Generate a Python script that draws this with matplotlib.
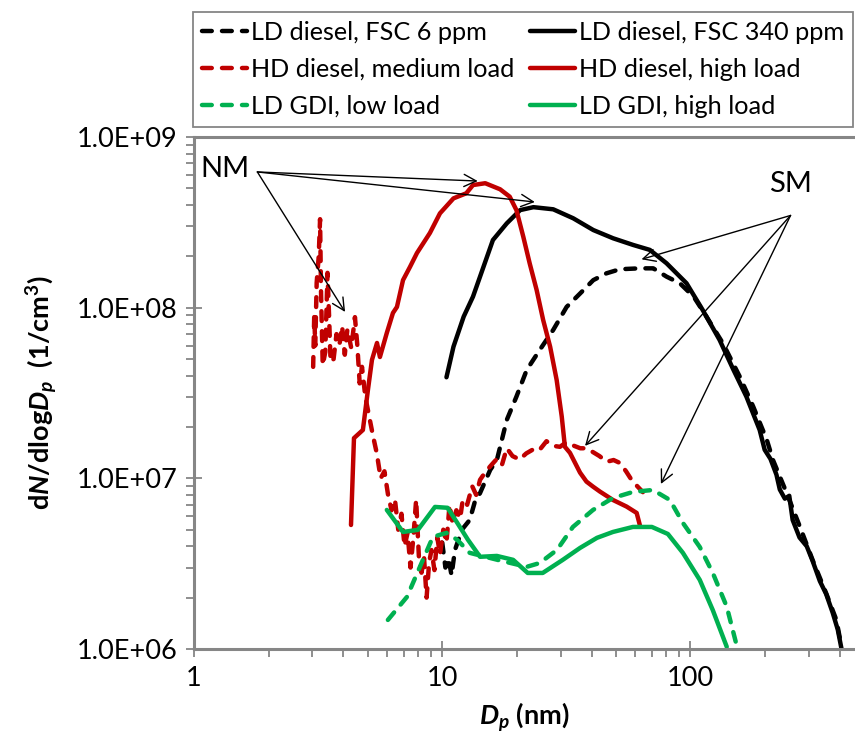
import matplotlib
matplotlib.use("Agg")
import matplotlib.pyplot as plt
from matplotlib.ticker import LogLocator, NullFormatter, FixedLocator

plt.rcParams["font.family"] = ["Lato", "DejaVu Sans"]
plt.rcParams["mathtext.fontset"] = "custom"
plt.rcParams["mathtext.rm"] = "Lato:bold"
plt.rcParams["mathtext.it"] = "Lato:bold:italic"
plt.rcParams["mathtext.bf"] = "Lato:bold"

# LD diesel, FSC 340 ppm
ld340_dp = [10.4, 11.1, 12.2, 13.3, 14.2, 16.0, 18.2, 20.6, 23.3, 28.0, 33.7, 40.6,
            48.8, 58.8, 68.6, 80.1, 96.4, 112, 131, 149, 168, 190, 199, 210, 222,
            229, 240, 250, 258, 275, 294, 310, 332, 352, 374, 392, 406]
ld340_n = [3.91e7, 5.91e7, 8.86e7, 1.16e8, 1.52e8, 2.49e8, 3.12e8, 3.73e8, 3.88e8,
           3.77e8, 3.34e8, 2.85e8, 2.55e8, 2.33e8, 2.18e8, 1.82e8, 1.39e8, 9.69e7,
           6.47e7, 4.32e7, 3.01e7, 1.92e7, 1.47e7, 1.30e7, 1.05e7, 8.6e6, 7.6e6,
           7.9e6, 5.7e6, 4.5e6, 4.0e6, 3.3e6, 2.5e6, 2.1e6, 1.63e6, 1.3e6, 1.0e6]

# LD diesel, FSC 6 ppm
ld6_dp = [10.0, 10.3, 10.6, 10.9, 11.25, 12.0, 12.9, 13.5, 14.2, 15.6, 16.6, 18.2,
          19.9, 21.9, 24.7, 28.0, 31.7, 35.9, 40.6, 45.9, 52.0, 62.5, 70.8, 80.1,
          90.6, 103, 116, 135, 158, 179, 203, 215, 244, 276, 311, 353, 387, 406]
ld6_n = [4.2e6, 3.0e6, 3.4e6, 2.7e6, 3.8e6, 5.0e6, 5.7e6, 7.2e6, 8.2e6, 1.12e7,
         1.28e7, 2.20e7, 3.01e7, 4.32e7, 5.65e7, 7.41e7, 1.01e8, 1.21e8, 1.45e8,
         1.59e8, 1.68e8, 1.70e8, 1.70e8, 1.52e8, 1.39e8, 1.16e8, 8.86e7, 6.19e7,
         3.94e7, 2.63e7, 1.68e7, 1.28e7, 8.2e6, 5.2e6, 3.3e6, 2.1e6, 1.48e6, 1.03e6]

# HD diesel, high load
hdh_dp = [4.29, 4.41, 4.79, 5.02, 5.21, 5.46, 5.61, 5.98, 6.33, 6.57, 6.95, 7.41,
          7.91, 8.92, 9.79, 11.1, 12.5, 13.3, 14.9, 17.1, 18.7, 19.9, 21.2, 22.5,
          24.0, 25.5, 27.2, 28.9, 30.3, 31.2, 32.7, 35.9, 38.1, 40.5, 43.2, 48.7,
          55.3, 60.7, 62.5]
hdh_n = [5.33e6, 1.72e7, 1.92e7, 3.30e7, 4.94e7, 6.21e7, 5.14e7, 7.11e7, 9.31e7,
         1.01e8, 1.45e8, 1.73e8, 2.09e8, 2.74e8, 3.57e8, 4.37e8, 4.68e8, 5.23e8,
         5.36e8, 4.94e8, 4.47e8, 3.73e8, 2.61e8, 1.82e8, 1.27e8, 8.47e7, 5.91e7,
         3.77e7, 2.30e7, 1.53e7, 1.41e7, 1.08e7, 9.57e6, 8.94e6, 8.36e6, 7.47e6,
         6.83e6, 6.27e6, 5.33e6]

# HD diesel, medium load
hdm_dp = [3.02, 3.05, 3.08, 3.12, 3.18, 3.22, 3.25, 3.30, 3.38, 3.45, 3.50, 3.55,
          3.65, 3.75, 3.85, 3.95, 4.05, 4.15, 4.30, 4.45, 4.55, 4.65, 4.75, 4.90,
          5.05, 5.25, 5.45, 5.65, 5.85, 6.05, 6.25, 6.45, 6.65, 6.85, 7.05, 7.25,
          7.45, 7.65, 7.85, 8.05, 8.25, 8.45, 8.65, 8.85, 9.05, 9.3, 9.55, 9.8,
          10.1, 10.4, 10.7, 11.0, 11.4, 11.8, 12.1, 12.6, 13.2, 13.7, 14.2, 15.0,
          15.8, 16.6, 17.4, 18.2, 19.2, 20.5, 21.8, 23.1, 24.5, 26.3, 28.0, 29.8,
          31.5, 33.6, 36.0, 38.0, 40.3, 43.0, 46.0, 49.0, 52.0, 55.0, 58.4, 61.0, 64.3]
hdm_n = [4.5e7, 9.0e7, 6.0e7, 1.4e8, 2.0e8, 3.3e8, 1.2e8, 4.6e7, 5.5e7, 1.6e8,
         9.0e7, 4.8e7, 5.0e7, 7.0e7, 6.0e7, 7.8e7, 5.3e7, 7.5e7, 5.8e7, 8.8e7,
         6.0e7, 3.6e7, 4.5e7, 3.0e7, 2.4e7, 1.8e7, 1.4e7, 1.0e7, 1.1e7, 8.0e6,
         6.5e6, 7.5e6, 5.0e6, 6.2e6, 4.0e6, 4.8e6, 3.0e6, 4.5e6, 7.5e6, 3.5e6,
         2.8e6, 3.4e6, 2.0e6, 3.2e6, 3.8e6, 2.9e6, 4.5e6, 3.6e6, 5.0e6, 4.2e6,
         7.0e6, 5.5e6, 6.5e6, 5.8e6, 7.5e6, 7.0e6, 9.0e6, 8.0e6, 9.8e6, 1.1e7,
         1.2e7, 1.3e7, 1.2e7, 1.5e7, 1.35e7, 1.29e7, 1.4e7, 1.47e7, 1.45e7,
         1.65e7, 1.55e7, 1.53e7, 1.62e7, 1.56e7, 1.5e7, 1.5e7, 1.43e7, 1.35e7,
         1.25e7, 1.28e7, 1.23e7, 1.1e7, 9.6e6, 9.0e6, 8.3e6]

# LD GDI, high load
gdih_dp = [5.98, 6.95, 7.98, 9.35, 10.5, 11.5, 12.7, 14.2, 16.6, 19.3, 22.1, 25.4,
           30.6, 35.9, 42.0, 48.7, 58.6, 69.9, 81.1, 93.2, 109, 123, 140]
gdih_n = [6.53e6, 4.85e6, 4.99e6, 6.80e6, 6.72e6, 5.48e6, 4.36e6, 3.47e6, 3.51e6,
          3.33e6, 2.79e6, 2.79e6, 3.33e6, 3.91e6, 4.48e6, 4.85e6, 5.19e6, 5.19e6,
          4.72e6, 3.66e6, 2.54e6, 1.69e6, 1.03e6]

# LD GDI, low load
gdil_dp = [6.04, 7.21, 8.13, 9.17, 10.4, 11.5, 12.9, 17.1, 21.9, 24.7, 29.0, 33.6,
           40.5, 48.7, 58.6, 70.6, 82.6, 93.2, 109, 123, 140, 154]
gdil_n = [1.48e6, 2.02e6, 3.03e6, 4.54e6, 4.79e6, 4.36e6, 3.66e6, 3.3e6, 3.03e6,
          3.19e6, 3.81e6, 5.19e6, 6.53e6, 7.67e6, 8.32e6, 8.55e6, 7.47e6, 5.48e6,
          3.96e6, 2.79e6, 1.77e6, 1.03e6]

BLACK = "black"
RED = "#C00000"
GREEN = "#00B050"
GREY = "#868686"

fig = plt.figure(figsize=(8.55, 7.47), dpi=100)
ax = fig.add_axes([194 / 855, 98 / 747, 661 / 855, 512 / 747])

dash = dict(linestyle=(0, (2.2, 2.3)), dash_capstyle="round")
solid = dict(linestyle="-", solid_capstyle="round", solid_joinstyle="round")
lw = 3.2

h_ld6, = ax.plot(ld6_dp, ld6_n, color=BLACK, lw=lw, **dash)
h_ld340, = ax.plot(ld340_dp, ld340_n, color=BLACK, lw=lw, **solid)
h_hdm, = ax.plot(hdm_dp, hdm_n, color=RED, lw=lw, **dash)
h_hdh, = ax.plot(hdh_dp, hdh_n, color=RED, lw=lw, **solid)
h_gdil, = ax.plot(gdil_dp, gdil_n, color=GREEN, lw=lw, **dash)
h_gdih, = ax.plot(gdih_dp, gdih_n, color=GREEN, lw=lw, **solid)

ax.set_xscale("log")
ax.set_yscale("log")
ax.set_xlim(1, 460)
ax.set_ylim(1e6, 1e9)

ax.xaxis.set_major_locator(FixedLocator([1, 10, 100]))
ax.xaxis.set_minor_locator(LogLocator(base=10, subs=range(2, 10)))
ax.xaxis.set_minor_formatter(NullFormatter())
ax.set_xticklabels(["1", "10", "100"])
ax.yaxis.set_major_locator(FixedLocator([1e6, 1e7, 1e8, 1e9]))
ax.yaxis.set_minor_locator(LogLocator(base=10, subs=range(2, 10)))
ax.yaxis.set_minor_formatter(NullFormatter())
ax.set_yticklabels(["1.0E+06", "1.0E+07", "1.0E+08", "1.0E+09"])

ax.tick_params(which="both", color=GREY, width=1.3, labelsize=19.5)
ax.tick_params(which="major", direction="inout", length=12, pad=6)
ax.tick_params(which="minor", direction="out", length=6)

for side in ["left", "bottom", "top"]:
    ax.spines[side].set_color(GREY)
    ax.spines[side].set_linewidth(2.2)
ax.spines["right"].set_visible(False)

ax.set_xlabel(r"$D_p$ (nm)", fontsize=19.5, fontweight="bold", labelpad=7)
ax.set_ylabel(r"d$N$/dlog$D_p$  (1/cm$^3$)", fontsize=19.5, fontweight="bold", labelpad=12)

# annotations
arrow = dict(arrowstyle="->", lw=1.0, color="black", shrinkA=0, shrinkB=0, mutation_scale=22)
ax.text(1.33, 6.5e8, "NM", fontsize=21, ha="center", va="center")
for target in [(13.9, 5.52e8), (23.6, 4.16e8), (4.06, 9.44e7)]:
    ax.annotate("", xy=target, xytext=(1.8, 6.24e8), arrowprops=arrow)
ax.text(253, 5.3e8, "SM", fontsize=21, ha="center", va="center")
for target in [(63.5, 1.92e8), (37.6, 1.55e7), (76, 9.27e6)]:
    ax.annotate("", xy=target, xytext=(253, 3.47e8), arrowprops=arrow)

handles = [h_ld6, h_hdm, h_gdil, h_ld340, h_hdh, h_gdih]
labels = ["LD diesel, FSC 6 ppm", "HD diesel, medium load", "LD GDI, low load",
          "LD diesel, FSC 340 ppm", "HD diesel, high load", "LD GDI, high load"]
leg = fig.legend(handles, labels, ncol=2, loc="upper left",
                 bbox_to_anchor=(193 / 855, 1 - 12 / 747), fontsize=18.2,
                 frameon=True, fancybox=False, edgecolor=GREY, framealpha=1,
                 handlelength=1.8, handletextpad=0.15, columnspacing=0.6,
                 labelspacing=0.55, borderpad=0.35, borderaxespad=0)
leg.get_frame().set_linewidth(1.3)

fig.savefig("out.png", dpi=100)
